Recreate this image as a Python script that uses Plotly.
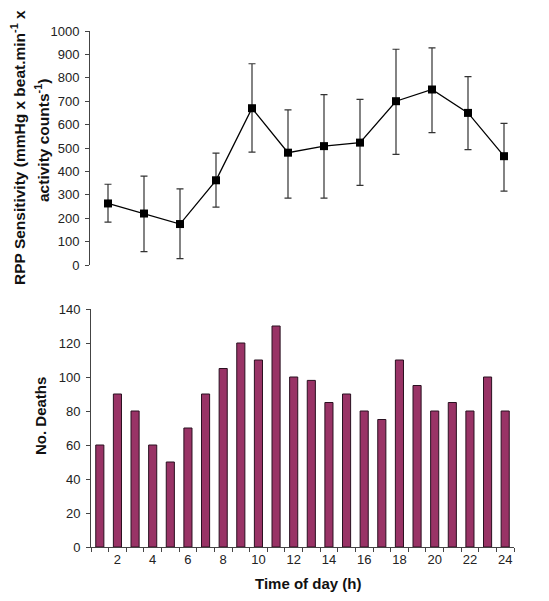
import plotly.graph_objects as go

# Top panel: RPP sensitivity per 2-hour period
rpp_periods = ["0-2", "2-4", "4-6", "6-8", "8-10", "10-12", "12-14", "14-16", "16-18", "18-20", "20-22", "22-24"]
rpp_mean = [263, 220, 175, 362, 670, 480, 508, 523, 700, 750, 650, 465]
rpp_upper = [345, 380, 325, 478, 860, 663, 728, 708, 922, 928, 805, 605]
rpp_lower = [183, 57, 27, 247, 482, 286, 286, 340, 473, 566, 493, 316]

# Bottom panel: deaths per hour
hours = list(range(1, 25))
deaths = [60, 90, 80, 60, 50, 70, 90, 105, 120, 110, 130, 100,
          98, 85, 90, 80, 75, 110, 95, 80, 85, 80, 100, 80]

x_tick_vals = [2, 4, 6, 8, 10, 12, 14, 16, 18, 20, 22, 24]

err_plus = [u - m for u, m in zip(rpp_upper, rpp_mean)]
err_minus = [m - l for m, l in zip(rpp_mean, rpp_lower)]

W, H = 549, 601
FONT = "Liberation Sans, Arial, Helvetica, sans-serif"
AX = "#444444"

fig = go.Figure()
fig.add_trace(go.Scatter(
    x=rpp_periods, y=rpp_mean, mode="lines+markers",
    line=dict(color="black", width=1.3),
    marker=dict(symbol="square", size=8, color="black"),
    error_y=dict(type="data", symmetric=False, array=err_plus, arrayminus=err_minus,
                 color="#333333", thickness=1.2, width=3.5),
    xaxis="x", yaxis="y", showlegend=False,
))
fig.add_trace(go.Bar(
    x=hours, y=deaths, width=0.46,
    marker=dict(color="#993366", line=dict(color="#2a1020", width=1)),
    xaxis="x2", yaxis="y2", showlegend=False,
))

def px_x(a, b):
    return [a / W, b / W]

def px_y(top, bottom):
    return [(H - bottom) / H, (H - top) / H]

fig.update_layout(
    width=W, height=H,
    margin=dict(l=0, r=0, t=0, b=0, autoexpand=False),
    paper_bgcolor="white", plot_bgcolor="white",
    font=dict(family=FONT, size=13, color="#222222"),
    xaxis=dict(domain=px_x(90, 522), type="category", range=[-0.5, 11.5],
               showline=False, showticklabels=False, ticks="", showgrid=False,
               zeroline=False, anchor="y"),
    yaxis=dict(domain=px_y(31, 265), range=[0, 1000], dtick=100, tick0=0,
               showline=True, linecolor=AX, linewidth=1, ticks="outside",
               ticklen=4, tickcolor=AX, showgrid=False, zeroline=False,
               anchor="x", ticklabelstandoff=3),
    xaxis2=dict(domain=px_x(91, 514), range=[0.5, 24.5], tickvals=x_tick_vals,
                ticks="", showline=True, linecolor=AX, linewidth=1,
                showgrid=False, zeroline=False, anchor="y2",
                minor=dict(ticks="outside", tick0=0.5, dtick=1, ticklen=4,
                           tickcolor=AX, showgrid=False)),
    yaxis2=dict(domain=px_y(309, 547), range=[0, 140], dtick=20, tick0=0,
                showline=True, linecolor=AX, linewidth=1, ticks="outside",
                ticklen=4, tickcolor=AX, showgrid=False, zeroline=False,
                anchor="x2", ticklabelstandoff=3),
    bargap=0.5,
)

TOP_TITLE_FONT = dict(family=FONT, size=15.5, color="#111111")
TITLE_FONT = dict(family=FONT, size=15, color="#111111")
fig.add_annotation(text="<b>RPP Sensitivity (mmHg x beat.min<sup>-1</sup> x</b>",
                   xref="paper", yref="paper", x=18 / W, y=(H - 148) / H,
                   textangle=-90, showarrow=False, font=TOP_TITLE_FONT,
                   xanchor="center", yanchor="middle")
fig.add_annotation(text="<b>activity counts<sup>-1</sup>)</b>",
                   xref="paper", yref="paper", x=42 / W, y=(H - 141) / H,
                   textangle=-90, showarrow=False, font=TOP_TITLE_FONT,
                   xanchor="center", yanchor="middle")
fig.add_annotation(text="<b>No. Deaths</b>",
                   xref="paper", yref="paper", x=40 / W, y=(H - 416) / H,
                   textangle=-90, showarrow=False, font=TITLE_FONT,
                   xanchor="center", yanchor="middle")
fig.add_annotation(text="<b>Time of day (h)</b>",
                   xref="paper", yref="paper", x=308 / W, y=(H - 583) / H,
                   showarrow=False, font=TITLE_FONT,
                   xanchor="center", yanchor="middle")

fig.write_html("out.html",
               config={"displayModeBar": False},
               post_script="document.body.style.margin='0';document.body.style.padding='0';")
